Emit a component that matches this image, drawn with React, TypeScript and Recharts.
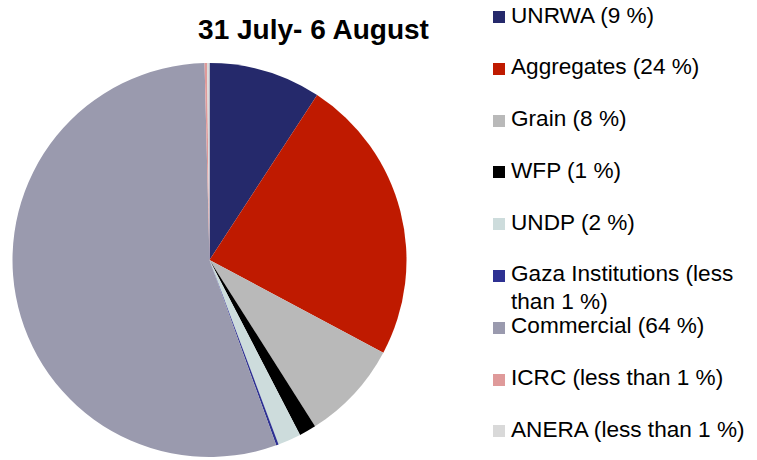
import React from "react";
import { PieChart, Pie, Cell, Legend } from "recharts";

// slice order clockwise from 12 o'clock
const names = [
  "UNRWA",
  "Aggregates",
  "Grain",
  "WFP",
  "UNDP",
  "Gaza Institutions",
  "Commercial",
  "ICRC",
  "ANERA",
];
const shares = [9.2, 23.6, 8.2, 1.4, 1.9, 0.2, 55.1, 0.2, 0.2];
const legendLabels = [
  "UNRWA (9 %)",
  "Aggregates (24 %)",
  "Grain (8 %)",
  "WFP (1 %)",
  "UNDP (2 %)",
  "Gaza Institutions (less than 1 %)",
  "Commercial (64 %)",
  "ICRC (less than 1 %)",
  "ANERA (less than 1 %)",
];
const colors = [
  "#25296b",
  "#bf1a00",
  "#b9b9b9",
  "#000000",
  "#cddcdc",
  "#2e3192",
  "#9a9aae",
  "#df9a9a",
  "#d9d9d9",
];

const data = names.map((name, i) => ({ name, value: shares[i] }));

const FONT = "'Liberation Sans', Arial, sans-serif";

function LegendBox() {
  return (
    <div style={{ fontFamily: FONT, fontSize: 22.6, color: "#000" }}>
      {legendLabels.map((label, i) => (
        <div
          key={label}
          style={{ position: "relative", height: 51.8, overflow: "visible" }}
        >
          <span
            style={{
              position: "absolute",
              left: 3,
              top: 11,
              width: 12,
              height: 12,
              background: colors[i],
            }}
          />
          <div
            style={{
              position: "absolute",
              left: 21,
              top: 1.5,
              width: 240,
              lineHeight: "28px",
              whiteSpace: "normal",
            }}
          >
            {label}
          </div>
        </div>
      ))}
    </div>
  );
}

export default function App() {
  return (
    <div style={{ position: "absolute", left: 0, top: 0, width: 757, height: 460, background: "#fff" }}>
      <div
        style={{
          position: "absolute",
          left: 0,
          width: 627,
          top: 14,
          textAlign: "center",
          fontFamily: FONT,
          fontWeight: "bold",
          fontSize: 28,
          lineHeight: "32px",
          zIndex: 2,
        }}
      >
        31 July- 6 August
      </div>
      <PieChart width={757} height={460} margin={{ top: 0, right: 0, bottom: 0, left: 0 }}>
        <Pie
          data={data}
          dataKey="value"
          nameKey="name"
          cx={209.5}
          cy={260}
          outerRadius={197}
          startAngle={90}
          endAngle={-270}
          stroke="none"
          isAnimationActive={false}
        >
          {data.map((entry, i) => (
            <Cell key={entry.name} fill={colors[i]} />
          ))}
        </Pie>
        <Legend
          content={() => <LegendBox />}
          wrapperStyle={{ position: "absolute", left: 490, top: 0, width: 267 }}
        />
      </PieChart>
    </div>
  );
}
